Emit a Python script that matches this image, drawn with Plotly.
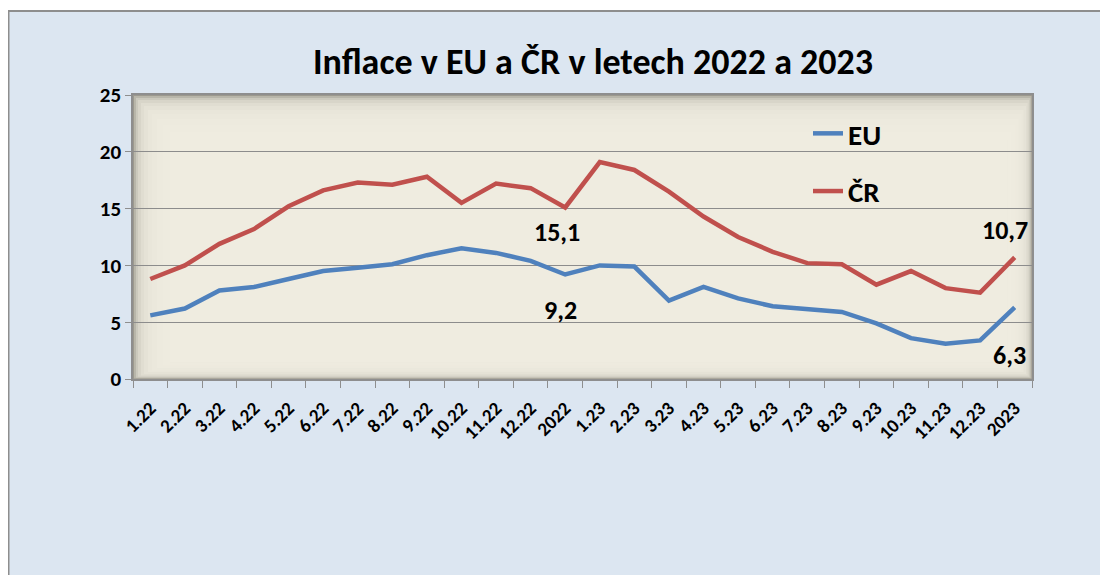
import plotly.graph_objects as go

categories = ["1.22", "2.22", "3.22", "4.22", "5.22", "6.22", "7.22", "8.22", "9.22", "10.22",
              "11.22", "12.22", "2022", "1.23", "2.23", "3.23", "4.23", "5.23", "6.23", "7.23",
              "8.23", "9.23", "10.23", "11.23", "12.23", "2023"]
eu_values = [5.6, 6.2, 7.8, 8.1, 8.8, 9.5, 9.8, 10.1, 10.9, 11.5,
             11.1, 10.4, 9.2, 10.0, 9.9, 6.9, 8.1, 7.1, 6.4, 6.1,
             5.9, 4.9, 3.6, 3.1, 3.4, 6.3]
cr_values = [8.8, 10.0, 11.9, 13.2, 15.2, 16.6, 17.3, 17.1, 17.8, 15.5,
             17.2, 16.8, 15.1, 19.1, 18.4, 16.5, 14.3, 12.5, 11.2, 10.2,
             10.1, 8.3, 9.5, 8.0, 7.6, 10.7]
title_text = "Inflace v EU a ČR v letech 2022 a 2023"
y_ticks = [0, 5, 10, 15, 20, 25]

# page has an 8px body margin; figure coordinates = page coordinates - 8
OFF = 8
W, H = 1108, 575
L, T = 133 - OFF, 95 - OFF
R = W - (1032 - OFF)
B = H - (379 - OFF)
PW, PH = W - L - R, H - T - B

FONT = "Carlito, 'Liberation Sans Narrow', 'DejaVu Sans Condensed', Lato, sans-serif"


def px_x(px):
    return (px - OFF - L) / PW


def px_y(py):
    return (H - B - (py - OFF)) / PH


fig = go.Figure()
fig.add_trace(go.Scatter(x=categories, y=eu_values, name="EU", mode="lines",
                         line=dict(color="#4F81BD", width=4.5), legendgroup="eu"))
fig.add_trace(go.Scatter(x=categories, y=cr_values, name="ČR", mode="lines",
                         line=dict(color="#C0504D", width=4.5), legendgroup="cr"))

shapes = []
# chart area background (light blue) with gray border at top/left
shapes.append(dict(type="rect", xref="paper", yref="paper", layer="below",
                   x0=px_x(OFF + 0.5), x1=px_x(W + 40), y0=px_y(11), y1=px_y(H + 40),
                   fillcolor="#DCE6F1", line=dict(color="#8E8E8E", width=2)))
# plot area base (edge colour), lightened towards the centre
shapes.append(dict(type="rect", xref="paper", yref="paper", layer="below",
                   x0=0, x1=1, y0=0, y1=1, fillcolor="#9C998E", line=dict(width=0)))
insets = [1, 3, 5, 8, 11, 15, 19, 24, 30, 37, 45]
for d in insets:
    shapes.append(dict(type="rect", xref="paper", yref="paper", layer="below",
                       x0=d / PW, x1=1 - 0.55 * d / PW,
                       y0=0.45 * d / PH, y1=1 - d / PH,
                       fillcolor="rgba(239,236,226,0.34)", line=dict(width=0)))

annotations = []
label_specs = [
    (12, cr_values, -8, -25),
    (12, eu_values, -5, -36),
    (25, cr_values, -10, 27),
    (25, eu_values, -5, -48),
]
for idx, series, xs, ys in label_specs:
    annotations.append(dict(x=idx, y=series[idx], xref="x", yref="y",
                            text=f"{series[idx]:.1f}".replace(".", ","), showarrow=False,
                            xshift=xs, yshift=ys,
                            font=dict(size=26, color="#000000", family=FONT, weight="bold")))

fig.update_layout(
    width=W, height=H,
    margin=dict(l=L, r=R, t=T, b=B, autoexpand=False),
    paper_bgcolor="#FFFFFF",
    plot_bgcolor="rgba(0,0,0,0)",
    font=dict(family=FONT, color="#000000", weight="bold"),
    title=dict(text=title_text, xref="container", yref="container",
               x=(593 - OFF) / W, xanchor="center", y=1 - (61 - OFF) / H, yanchor="middle",
               font=dict(size=36, family=FONT, color="#000000", weight="bold")),
    shapes=shapes,
    annotations=annotations,
    showlegend=True,
    legend=dict(x=px_x(808), y=px_y(108), xanchor="left", yanchor="top",
                bgcolor="rgba(0,0,0,0)", borderwidth=0,
                traceorder="grouped", tracegroupgap=17,
                font=dict(size=29, family=FONT, color="#000000", weight="bold")),
    xaxis=dict(type="category", range=[-0.5, len(categories) - 0.5],
               tickson="boundaries", ticks="outside", ticklen=7,
               tickcolor="#8E8E8E", showline=True, linecolor="#8E8E8E", linewidth=1.5,
               mirror=True, showgrid=False, tickangle=-45, ticklabelstandoff=9,
               tickfont=dict(size=19, family=FONT, color="#000000", weight="bold")),
    yaxis=dict(range=[0, 25], tickvals=y_ticks, ticks="outside", ticklen=6,
               tickcolor="#8E8E8E", showline=True, linecolor="#8E8E8E", linewidth=1.5,
               mirror=True, showgrid=True, gridcolor="#8C8C8C", gridwidth=1,
               zeroline=False,
               tickfont=dict(size=21, family=FONT, color="#000000", weight="bold")),
)

fig.write_html("out.html")
